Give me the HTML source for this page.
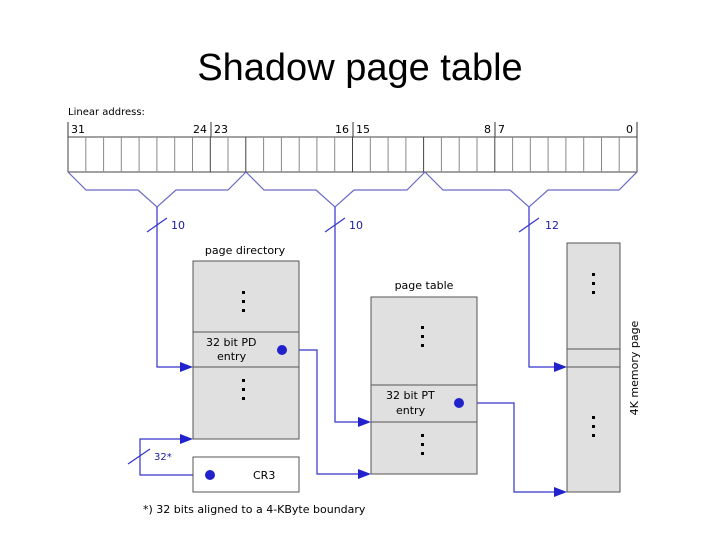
<!DOCTYPE html>
<html><head><meta charset="utf-8"><style>
body{margin:0;background:#fff;}
svg{display:block;font-family:"DejaVu Sans","Liberation Sans",sans-serif;}
</style></head><body>
<svg width="720" height="540" viewBox="0 0 720 540">
<text x="360" y="80" font-family="Liberation Sans, sans-serif" font-size="38" text-anchor="middle" fill="#000">Shadow page table</text>
<text x="68" y="115" font-size="10" fill="#000">Linear address:</text>
<g font-size="11" fill="#000">
<text x="71" y="133">31</text><text x="193" y="133">24</text><text x="214" y="133">23</text>
<text x="335" y="133">16</text><text x="356" y="133">15</text>
<text x="484" y="133">8</text><text x="498" y="133">7</text><text x="626" y="133">0</text>
</g>
<g stroke="#333" stroke-width="1">
<line x1="211" y1="122" x2="211" y2="137"/><line x1="353" y1="122" x2="353" y2="137"/>
<line x1="495" y1="122" x2="495" y2="137"/><line x1="637" y1="122" x2="637" y2="137"/>
<line x1="68" y1="122" x2="68" y2="137"/>
</g>
<rect x="68" y="137" width="569" height="35" fill="#fff" stroke="#444"/>
<g fill="none" stroke="#6a6ac8" stroke-width="1.2">
<polyline points="68,172 86,190 138,190 157,207 176,190 228,190 246,172"/>
<polyline points="246,172 264,190 316,190 335,207 354,190 407,190 425,172"/>
<polyline points="425,172 443,190 510,190 529,207 548,190 619,190 637,172"/>
</g>
<g fill="none" stroke="#3333cc" stroke-width="1.2">
<line x1="147" y1="232" x2="167" y2="218"/><line x1="325" y1="232" x2="345" y2="218"/><line x1="519" y1="232" x2="539" y2="218"/>
<polyline points="157,207 157,367 185,367"/>
<polyline points="335,207 335,422 363,422"/>
<polyline points="529,207 529,367 559,367"/>
<polyline points="210,475 140,475 140,439 185,439"/>
<line x1="128" y1="464" x2="150" y2="449"/>
<polyline points="282,350 317,350 317,474 363,474"/>
<polyline points="459,403 514,403 514,492 559,492"/>
</g>
<g font-size="11" fill="#1a1aa0"><text x="171" y="229">10</text><text x="349" y="229">10</text><text x="545" y="229">12</text><text x="154" y="460" font-size="10">32*</text></g>
<g fill="#e0e0e0" stroke="#555">
<rect x="193" y="261" width="106" height="178"/>
<rect x="193" y="332" width="106" height="35"/>
<rect x="371" y="297" width="106" height="177"/>
<rect x="371" y="385" width="106" height="37"/>
<rect x="567" y="243" width="53" height="249"/>
<line x1="567" y1="349" x2="620" y2="349"/><line x1="567" y1="367" x2="620" y2="367"/>
</g>
<rect x="193" y="457" width="106" height="35" fill="#fff" stroke="#555"/>
<g fill="#2222cc">
<polygon points="193,367 180,362 180,372"/><polygon points="371,422 358,417 358,427"/>
<polygon points="567,367 554,362 554,372"/><polygon points="193,439 180,434 180,444"/>
<polygon points="371,474 358,469 358,479"/><polygon points="567,492 554,487 554,497"/>
<circle cx="282" cy="350" r="5"/><circle cx="459" cy="403" r="5"/><circle cx="210" cy="475" r="5"/>
</g>
<g font-size="11" fill="#000">
<text x="245" y="254" text-anchor="middle">page directory</text>
<text x="424" y="289" text-anchor="middle">page table</text>
<text x="206" y="346">32 bit PD</text><text x="217" y="360">entry</text>
<text x="386" y="399">32 bit PT</text><text x="396" y="414">entry</text>
<text x="253" y="479">CR3</text>
<text x="143" y="513">*) 32 bits aligned to a 4-KByte boundary</text>
<text transform="translate(638,368) rotate(-90)" text-anchor="middle">4K memory page</text>
</g>
<g fill="#000">
<rect x="242" y="291" width="3" height="3"/><rect x="242" y="300" width="3" height="3"/><rect x="242" y="309" width="3" height="3"/>
<rect x="242" y="379" width="3" height="3"/><rect x="242" y="388" width="3" height="3"/><rect x="242" y="397" width="3" height="3"/>
<rect x="421" y="326" width="3" height="3"/><rect x="421" y="335" width="3" height="3"/><rect x="421" y="344" width="3" height="3"/>
<rect x="421" y="434" width="3" height="3"/><rect x="421" y="443" width="3" height="3"/><rect x="421" y="452" width="3" height="3"/>
<rect x="592" y="273" width="3" height="3"/><rect x="592" y="282" width="3" height="3"/><rect x="592" y="291" width="3" height="3"/>
<rect x="592" y="416" width="3" height="3"/><rect x="592" y="425" width="3" height="3"/><rect x="592" y="434" width="3" height="3"/>
</g>
<g stroke="#888">
<line x1="85.8" y1="137" x2="85.8" y2="172"/><line x1="103.6" y1="137" x2="103.6" y2="172"/><line x1="121.3" y1="137" x2="121.3" y2="172"/><line x1="139.1" y1="137" x2="139.1" y2="172"/><line x1="156.9" y1="137" x2="156.9" y2="172"/><line x1="174.7" y1="137" x2="174.7" y2="172"/><line x1="192.5" y1="137" x2="192.5" y2="172"/><line x1="210.3" y1="137" x2="210.3" y2="172" stroke="#444"/><line x1="228" y1="137" x2="228" y2="172"/><line x1="245.8" y1="137" x2="245.8" y2="172" stroke="#444"/><line x1="263.6" y1="137" x2="263.6" y2="172"/><line x1="281.4" y1="137" x2="281.4" y2="172"/><line x1="299.2" y1="137" x2="299.2" y2="172"/><line x1="316.9" y1="137" x2="316.9" y2="172"/><line x1="334.7" y1="137" x2="334.7" y2="172"/><line x1="352.5" y1="137" x2="352.5" y2="172" stroke="#444"/><line x1="370.3" y1="137" x2="370.3" y2="172"/><line x1="388.1" y1="137" x2="388.1" y2="172"/><line x1="405.9" y1="137" x2="405.9" y2="172"/><line x1="423.6" y1="137" x2="423.6" y2="172" stroke="#444"/><line x1="441.4" y1="137" x2="441.4" y2="172"/><line x1="459.2" y1="137" x2="459.2" y2="172"/><line x1="477" y1="137" x2="477" y2="172"/><line x1="494.8" y1="137" x2="494.8" y2="172" stroke="#444"/><line x1="512.6" y1="137" x2="512.6" y2="172"/><line x1="530.3" y1="137" x2="530.3" y2="172"/><line x1="548.1" y1="137" x2="548.1" y2="172"/><line x1="565.9" y1="137" x2="565.9" y2="172"/><line x1="583.7" y1="137" x2="583.7" y2="172"/><line x1="601.5" y1="137" x2="601.5" y2="172"/><line x1="619.2" y1="137" x2="619.2" y2="172"/>
</g>
</svg>
</body></html>
